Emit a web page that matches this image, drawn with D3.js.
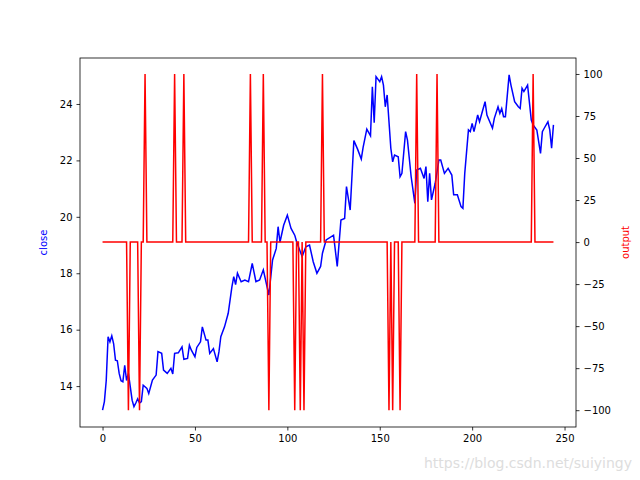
<!DOCTYPE html>
<html>
<head>
<meta charset="utf-8">
<script src="https://cdn.jsdelivr.net/npm/d3@7"></script>
<style>
  body { margin: 0; background: #fff; }
  text { font-family: "DejaVu Sans", sans-serif; }
</style>
</head>
<body>
<div id="chart"></div>
<script>
// close price (index, value)
const closeX = [0,1,2,3,4,5,6,7,8,9,10,11,12,13,14,15,16,17,18,19,20,21,22,24,25,27,29,30,32,33,35,37,38,39,41,43,44,46,47,48,50,51,53,54,56,57,58,60,62,63,64,66,68,70,71,72,73,75,77,79,81,83,85,87,90,92,94,95,96,98,100,102,104,105,108,110,112,114,116,118,119,121,125,127,129,131,132,134,136,138,140,141,143,145,146,147,148,150,151,152,153,154,156,157,158,160,161,162,164,165,167,169,170,172,174,175,176,177,178,180,182,183,185,187,189,190,192,194,195,196,198,199,200,201,203,204,205,207,208,211,212,214,215,216,217,218,220,221,223,225,226,227,228,230,232,233,235,237,238,239,241,242,243,244];
const closeY = [13.15,13.45,14.2,15.75,15.57,15.78,15.5,14.92,14.9,14.45,14.19,14.15,14.74,14.2,14.45,13.98,13.5,13.27,13.4,13.55,13.4,13.45,14.03,13.92,13.74,14.21,14.39,15.22,15.16,14.57,14.45,14.63,14.43,15.16,15.18,15.39,14.95,14.98,15.45,15.28,15.04,15.37,15.57,16.1,15.63,15.63,15.16,15.33,14.86,15.22,15.75,16.1,16.58,17.52,17.88,17.6,18.0,17.7,17.76,17.7,18.35,17.7,17.76,18.12,17.23,18.47,18.88,19.65,19.1,19.7,20.06,19.59,19.35,19.12,18.59,18.94,19.0,18.41,18.0,18.24,18.71,19.18,19.35,18.24,19.89,19.94,21.07,20.24,22.7,22.4,22.05,22.46,23.11,22.87,24.61,23.34,24.97,24.79,24.97,24.67,23.9,24.32,22.43,21.95,22.19,22.13,21.42,21.54,23.02,22.72,21.42,20.48,21.66,21.72,21.36,21.78,20.54,21.54,20.6,21.19,22.01,22.01,21.54,21.72,21.48,20.78,20.78,20.36,20.3,21.54,23.08,23.02,23.31,23.02,23.61,23.37,23.61,24.08,23.61,23.14,23.49,23.9,23.67,23.84,23.55,23.55,25.03,24.67,24.08,23.9,23.84,24.56,24.44,24.67,23.43,23.26,23.08,22.25,23.02,23.14,23.37,23.08,22.43,23.26];

// output signal: 0 everywhere except these spikes
const outputLength = 245;
const spikeIdx = [14,20,23,39,44,80,87,90,104,107,109,119,155,157,161,170,181,233];
const spikeVal = [-100,-100,100,100,100,100,100,-100,-100,-100,-100,100,-100,-100,-100,100,100,100];

const xTicks = [0,50,100,150,200,250];
const leftTicks = [14,16,18,20,22,24];
const rightTicks = [-100,-75,-50,-25,0,25,50,75,100];

const width = 640, height = 480;
const margin = { top: 58, right: 64, bottom: 53, left: 80 };

const svg = d3.select("#chart").append("svg")
    .attr("width", width)
    .attr("height", height);

const x = d3.scaleLinear().domain([-12.2, 256.2]).range([margin.left, width - margin.right]);
const yL = d3.scaleLinear().domain([12.55, 25.63]).range([height - margin.bottom, margin.top]);
const yR = d3.scaleLinear().domain([-110, 109.5]).range([height - margin.bottom, margin.top]);

const output = d3.range(outputLength).map(i => {
    const k = spikeIdx.indexOf(i);
    return k >= 0 ? spikeVal[k] : 0;
});

// lines
svg.append("path")
    .datum(closeX.map((d, i) => [d, closeY[i]]))
    .attr("fill", "none")
    .attr("stroke", "blue")
    .attr("stroke-width", 1.5)
    .attr("d", d3.line().x(d => x(d[0])).y(d => yL(d[1])));

svg.append("path")
    .datum(output)
    .attr("fill", "none")
    .attr("stroke", "red")
    .attr("stroke-width", 1.5)
    .attr("d", d3.line().x((d, i) => x(i)).y(d => yR(d)));

// axes
const bottom = svg.append("g")
    .attr("transform", `translate(0,${height - margin.bottom})`)
    .call(d3.axisBottom(x).tickValues(xTicks).tickSize(3.5).tickPadding(4).tickSizeOuter(0));
const left = svg.append("g")
    .attr("transform", `translate(${margin.left},0)`)
    .call(d3.axisLeft(yL).tickValues(leftTicks).tickSize(3.5).tickPadding(4).tickSizeOuter(0));
const right = svg.append("g")
    .attr("transform", `translate(${width - margin.right},0)`)
    .call(d3.axisRight(yR).tickValues(rightTicks).tickSize(3.5).tickPadding(4).tickSizeOuter(0));

[bottom, left, right].forEach(g => {
    g.select(".domain").remove();
    g.selectAll("text").attr("font-size", 10).attr("fill", "#000").style("font-family", "DejaVu Sans, sans-serif");
    g.selectAll("line").attr("stroke", "#000").attr("stroke-width", 0.8);
});

// frame
svg.append("rect")
    .attr("x", margin.left).attr("y", margin.top)
    .attr("width", width - margin.left - margin.right)
    .attr("height", height - margin.top - margin.bottom)
    .attr("fill", "none").attr("stroke", "#000").attr("stroke-width", 0.8);

// axis labels
svg.append("text")
    .attr("transform", `translate(47,${(margin.top + height - margin.bottom) / 2}) rotate(-90)`)
    .attr("text-anchor", "middle").attr("font-size", 10).attr("fill", "blue")
    .text("close");
svg.append("text")
    .attr("transform", `translate(629,${(margin.top + height - margin.bottom) / 2}) rotate(-90)`)
    .attr("text-anchor", "middle").attr("font-size", 10).attr("fill", "red")
    .text("output");

// watermark
svg.append("text")
    .attr("x", 632).attr("y", 468)
    .attr("text-anchor", "end").attr("font-size", 14).attr("fill", "#ddd")
    .text("https://blog.csdn.net/suiyingy");
</script>
</body>
</html>
